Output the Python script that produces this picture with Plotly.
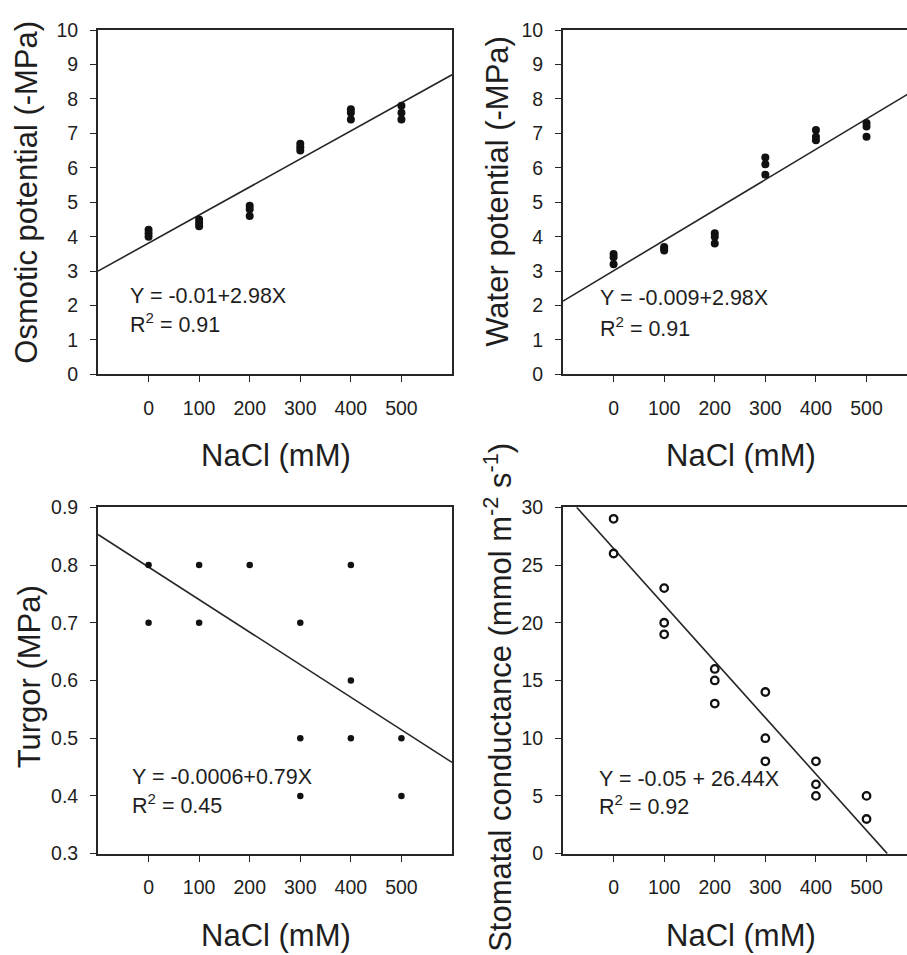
import plotly.graph_objects as go

# ---------------- data ----------------
nacl_ticks = [0, 100, 200, 300, 400, 500]

osm_x = [0, 0, 0, 100, 100, 100, 200, 200, 200, 300, 300, 300, 400, 400, 400, 500, 500, 500]
osm_y = [4.2, 4.1, 4.0, 4.5, 4.4, 4.3, 4.9, 4.8, 4.6, 6.7, 6.6, 6.5, 7.7, 7.6, 7.4, 7.8, 7.6, 7.4]
osm_fit_x = [-100, 600]
osm_fit_y = [3.0, 8.7]

wat_x = [0, 0, 0, 100, 100, 100, 200, 200, 200, 300, 300, 300, 400, 400, 400, 500, 500, 500]
wat_y = [3.5, 3.4, 3.2, 3.7, 3.65, 3.6, 4.1, 4.0, 3.8, 6.3, 6.1, 5.8, 7.1, 6.9, 6.8, 7.3, 7.2, 6.9]
wat_fit_x = [-100, 600]
wat_fit_y = [2.13, 8.3]

tur_x = [0, 0, 100, 100, 200, 300, 300, 300, 400, 400, 400, 500, 500]
tur_y = [0.8, 0.7, 0.8, 0.7, 0.8, 0.7, 0.5, 0.4, 0.8, 0.6, 0.5, 0.5, 0.4]
tur_fit_x = [-100, 600]
tur_fit_y = [0.853, 0.458]

sto_x = [0, 0, 100, 100, 100, 200, 200, 200, 300, 300, 300, 400, 400, 400, 500, 500]
sto_y = [29, 26, 23, 20, 19, 16, 15, 13, 14, 10, 8, 8, 6, 5, 5, 3]
sto_fit_x = [-73, 541]
sto_fit_y = [30, 0]

eq_text = ["Y = -0.01+2.98X", "Y = -0.009+2.98X", "Y = -0.0006+0.79X", "Y = -0.05 + 26.44X"]
r2_text = ["R<sup>2</sup> = 0.91", "R<sup>2</sup> = 0.91", "R<sup>2</sup> = 0.45", "R<sup>2</sup> = 0.92"]
ytitles = ["Osmotic potential (-MPa)", "Water potential (-MPa)", "Turgor (MPa)",
           "Stomatal conductance (mmol m<sup>-2</sup> s<sup>-1</sup>)"]
xtitle = "NaCl (mM)"

# ---------------- style ----------------
W, H = 907, 955
FONT = "Liberation Sans, Arial, sans-serif"
INK = "#1e1e1e"
LINE = "#262626"


def px_x(p):
    return p / W


def px_y(p):
    return 1 - p / H


fig = go.Figure()

marker_solid = dict(color="#111111", size=8)
marker_small = dict(color="#111111", size=6.5)
marker_open = dict(color="white", size=7.5, line=dict(color="#111111", width=2.3))

panels = [
    (osm_x, osm_y, osm_fit_x, osm_fit_y, marker_solid, "x", "y"),
    (wat_x, wat_y, wat_fit_x, wat_fit_y, marker_solid, "x2", "y2"),
    (tur_x, tur_y, tur_fit_x, tur_fit_y, marker_small, "x3", "y3"),
    (sto_x, sto_y, sto_fit_x, sto_fit_y, marker_open, "x4", "y4"),
]

for xs, ys, fx, fy, mk, xa, ya in panels:
    fig.add_trace(go.Scatter(x=fx, y=fy, mode="lines", line=dict(color=LINE, width=1.6),
                             xaxis=xa, yaxis=ya, showlegend=False, hoverinfo="skip"))
    fig.add_trace(go.Scatter(x=xs, y=ys, mode="markers", marker=mk,
                             xaxis=xa, yaxis=ya, showlegend=False, cliponaxis=False))

tickfont = dict(family=FONT, size=19.5, color=INK)


def xaxis(domain, rng, anchor):
    return dict(domain=domain, range=rng, anchor=anchor, showline=True, linecolor=LINE,
                linewidth=1.8, mirror=True, ticks="outside", ticklen=6, tickwidth=1.4,
                tickcolor=LINE, tickvals=nacl_ticks, showgrid=False, zeroline=False,
                tickfont=tickfont, ticklabelstandoff=9)


def yaxis(domain, rng, anchor, dtick, mirror):
    return dict(domain=domain, range=rng, anchor=anchor, showline=True, linecolor=LINE,
                linewidth=1.8, mirror=mirror, ticks="outside", ticklen=6, tickwidth=1.4,
                tickcolor=LINE, dtick=dtick, tick0=0, showgrid=False, zeroline=False,
                tickfont=tickfont, ticklabelstandoff=8)


left_dom = [px_x(98), px_x(452)]
right_dom = [px_x(563), 1.0]
top_dom = [px_y(372), px_y(19.5)]
bot_dom = [px_y(862.5), px_y(508)]

fig.update_layout(
    width=W, height=H, autosize=False,
    margin=dict(l=0, r=0, t=0, b=0),
    paper_bgcolor="white", plot_bgcolor="white",
    font=dict(family=FONT, color=INK),
    xaxis=xaxis(left_dom, [-100, 600], "y"),
    yaxis=yaxis(top_dom, [0, 10], "x", 1, True),
    xaxis2=xaxis(right_dom, [-100, 580], "y2"),
    yaxis2=yaxis(top_dom, [0, 10], "x2", 1, False),
    xaxis3=xaxis(left_dom, [-100, 600], "y3"),
    yaxis3=yaxis(bot_dom, [0.3, 0.9], "x3", 0.1, True),
    xaxis4=xaxis(right_dom, [-100, 580], "y4"),
    yaxis4=yaxis(bot_dom, [0, 30], "x4", 5, False),
)
fig.update_layout(yaxis3=dict(tickformat=".1f"))

ann = []
# equations (data coordinates)
eq_pos = [("x", "y", -40, 2.27, 1.50), ("x2", "y2", -31, 2.22, 1.39),
          ("x3", "y3", -37, 0.433, 0.386), ("x4", "y4", -33, 6.5, 4.2)]
for i, (xa, ya, xv, y1, y2) in enumerate(eq_pos):
    ann.append(dict(x=xv, y=y1, xref=xa, yref=ya, text=eq_text[i], showarrow=False,
                    xanchor="left", yanchor="middle", font=dict(family=FONT, size=21.5, color=INK)))
    ann.append(dict(x=xv, y=y2, xref=xa, yref=ya, text=r2_text[i], showarrow=False,
                    xanchor="left", yanchor="middle", font=dict(family=FONT, size=21.5, color=INK)))

# y titles
ytpos = [(27, 186), (498, 184), (29, 682), (498, 702)]
for i, (xp, yp) in enumerate(ytpos):
    ann.append(dict(x=px_x(xp), y=px_y(yp), xref="paper", yref="paper", text=ytitles[i],
                    textangle=-90, showarrow=False, xanchor="center", yanchor="middle",
                    font=dict(family=FONT, size=31, color=INK)))
# x titles
for xp, yp in [(276, 455), (741, 455), (276, 946), (741, 946)]:
    ann.append(dict(x=px_x(xp), y=px_y(yp), xref="paper", yref="paper", text=xtitle,
                    showarrow=False, xanchor="center", yanchor="middle",
                    font=dict(family=FONT, size=31, color=INK)))

fig.update_layout(annotations=ann)

fig.write_html("out.html", config={"displayModeBar": False},
               post_script="document.body.style.margin='0';document.body.style.overflow='hidden';")
